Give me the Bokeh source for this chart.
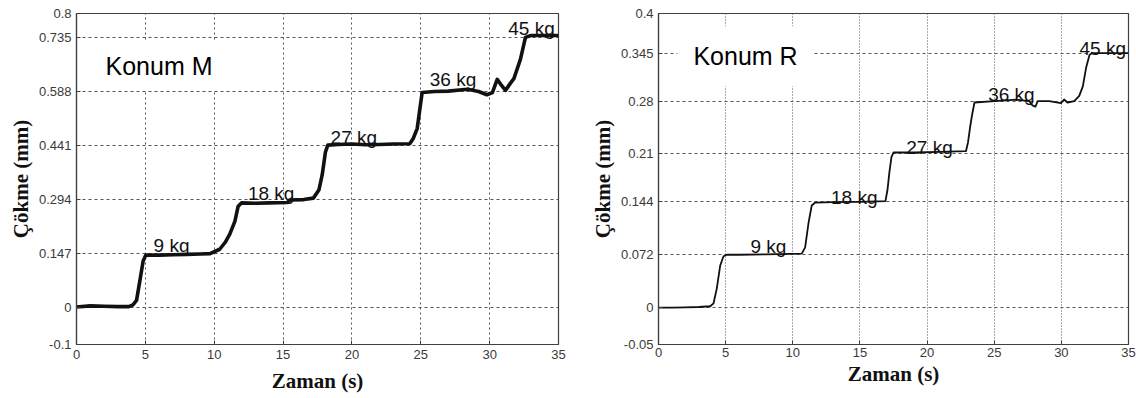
from bokeh.plotting import figure
from bokeh.models import Range1d, FixedTicker, Label, ColumnDataSource
from bokeh.layouts import row
from bokeh.core.properties import value
from bokeh.embed import file_html
from bokeh.resources import INLINE

# ---------------- data: Konum M ----------------
M_T = [0, 1, 2, 3, 3.8, 4.1, 4.36, 4.6, 4.84, 5.03, 6, 7, 8, 9, 9.7, 10.4, 10.8, 11.13,
       11.5, 11.74, 11.98, 13, 14, 15.3, 15.5, 16.5, 17.2, 17.6, 17.84, 18.08, 18.25, 19,
       20, 21, 22, 23, 24.2, 24.45, 24.74, 24.95, 25.1, 26, 27, 28.4, 29.2, 29.8, 30.2,
       30.55, 30.85, 31.15, 31.5, 31.76, 32.24, 32.6, 33, 34, 35]
M_Y = [0.002, 0.005, 0.004, 0.003, 0.003, 0.008, 0.02, 0.073, 0.127, 0.143, 0.143, 0.144,
       0.145, 0.146, 0.147, 0.159, 0.178, 0.2, 0.235, 0.276, 0.285, 0.284, 0.285, 0.286,
       0.293, 0.294, 0.298, 0.32, 0.361, 0.424, 0.442, 0.444, 0.445, 0.443, 0.444, 0.445,
       0.446, 0.46, 0.487, 0.545, 0.585, 0.588, 0.589, 0.594, 0.588, 0.579, 0.585, 0.621,
       0.605, 0.591, 0.61, 0.623, 0.676, 0.735, 0.74, 0.74, 0.74]
M_YTICKS = [-0.1, 0, 0.147, 0.294, 0.441, 0.588, 0.735, 0.8]
M_YLABELS = ["-0.1", "0", "0.147", "0.294", "0.441", "0.588", "0.735", "0.8"]
M_LAB_T = [5.6, 12.45, 18.45, 25.65, 31.35]
M_LAB_Y = [0.168, 0.311, 0.464, 0.621, 0.760]

# ---------------- data: Konum R ----------------
R_T = [0, 1, 2, 3, 3.85, 4.1, 4.34, 4.59, 4.84, 5.09, 6, 8, 10.67, 10.92, 11.17, 11.41,
       11.67, 13, 15, 16.9, 17.05, 17.2, 17.35, 17.5, 19, 21, 22.9, 23.05, 23.2, 23.35,
       23.53, 25, 26.63, 27.6, 27.85, 28.07, 28.24, 29.1, 29.97, 30.2, 30.46, 30.96,
       31.33, 31.6, 31.85, 32.1, 32.3, 33.5, 35]
R_Y = [0.0, 0.0, 0.0005, 0.001, 0.002, 0.006, 0.026, 0.057, 0.070, 0.072, 0.072, 0.0725,
       0.0735, 0.082, 0.115, 0.139, 0.143, 0.1436, 0.144, 0.145, 0.16, 0.185, 0.205, 0.211,
       0.211, 0.212, 0.213, 0.225, 0.245, 0.262, 0.279, 0.281, 0.283, 0.281, 0.275, 0.2735,
       0.281, 0.281, 0.278, 0.283, 0.279, 0.281, 0.288, 0.301, 0.327, 0.344, 0.346, 0.346,
       0.346]
R_YTICKS = [-0.05, 0, 0.072, 0.144, 0.21, 0.28, 0.345, 0.4]
R_YLABELS = ["-0.05", "0", "0.072", "0.144", "0.21", "0.28", "0.345", "0.4"]
R_LAB_T = [6.85, 12.85, 18.45, 24.55, 31.35]
R_LAB_Y = [0.083, 0.150, 0.218, 0.290, 0.352]

LOADS = ["9 kg", "18 kg", "27 kg", "36 kg", "45 kg"]
XTICKS = [0, 5, 10, 15, 20, 25, 30, 35]

SANS = "Liberation Sans"
SERIF = "Liberation Serif"
FRAME = "#404040"


def make_fig(width, bl, br, bt, fh, yr, yticks, ylabels, t, y, lw, lt, ly, konum, kx, ky,
             pad, vdash, xstand, xlstand):
    H = 398
    p = figure(width=width, height=H, x_range=Range1d(0, 35), y_range=Range1d(*yr),
               output_backend="svg", toolbar_location=None,
               min_border_left=bl, min_border_right=br, min_border_top=bt,
               min_border_bottom=H - bt - fh)
    p.background_fill_color = "white"
    p.border_fill_color = "white"
    p.outline_line_color = FRAME
    p.outline_line_width = 1.2

    p.xaxis.ticker = FixedTicker(ticks=XTICKS)
    p.yaxis.ticker = FixedTicker(ticks=yticks)
    p.yaxis.major_label_overrides = {float(k): v for k, v in zip(yticks, ylabels)}
    for ax in (p.xaxis, p.yaxis):
        ax.axis_line_color = FRAME
        ax.axis_line_width = 1.2
        ax.major_tick_line_color = FRAME
        ax.major_tick_in = 4
        ax.major_tick_out = 0
        ax.minor_tick_line_color = None
        ax.major_label_text_font = SANS
        ax.major_label_text_font_size = "13px"
        ax.major_label_text_color = "#3a3a3a"
        ax.axis_label_text_font = SERIF
        ax.axis_label_text_font_style = "bold"
        ax.axis_label_text_font_size = "21px"
        ax.axis_label_text_color = "#111111"
    p.xaxis.axis_label = "Zaman (s)"
    p.yaxis.axis_label = "Çökme (mm)"
    p.xaxis.major_label_standoff = xstand
    p.xaxis.axis_label_standoff = xlstand
    p.yaxis.major_label_standoff = 5
    p.yaxis.axis_label_standoff = 3

    p.xgrid.grid_line_color = "#555555"
    p.xgrid.grid_line_dash = vdash
    p.xgrid.grid_line_width = 1
    p.ygrid.grid_line_color = "#555555"
    p.ygrid.grid_line_dash = "3 3"
    p.ygrid.grid_line_width = 1

    src = ColumnDataSource(dict(t=t, y=y))
    p.line("t", "y", source=src, line_color="#111111", line_width=lw, line_join="round")

    lab = ColumnDataSource(dict(t=lt, y=ly, txt=LOADS))
    p.text("t", "y", text="txt", source=lab, text_font=value(SANS),
           text_font_size="19px", text_color="#111111", text_baseline="alphabetic",
           text_align="left")

    p.add_layout(Label(x=kx, y=ky, text=konum, text_font=SANS, text_font_size="25px",
                       text_color="black", text_baseline="alphabetic",
                       background_fill_color="white", padding=pad))
    return p


p1 = make_fig(580, 76, 22, 11, 333, (-0.1, 0.8), M_YTICKS, M_YLABELS, M_T, M_Y, 3.6,
              M_LAB_T, M_LAB_Y, "Konum M", 1.38, 0.658, 10, "2 3", 5, 7)
p2 = make_fig(556, 78, 8, 13, 338, (-0.05, 0.4), R_YTICKS, R_YLABELS, R_T, R_Y, 1.8,
              R_LAB_T, R_LAB_Y, "Konum R", 1.41, 0.3418, 16, "1 2", 3, 2)

layout = row(p1, p2)
open("out.html", "w").write(file_html(layout, INLINE))
